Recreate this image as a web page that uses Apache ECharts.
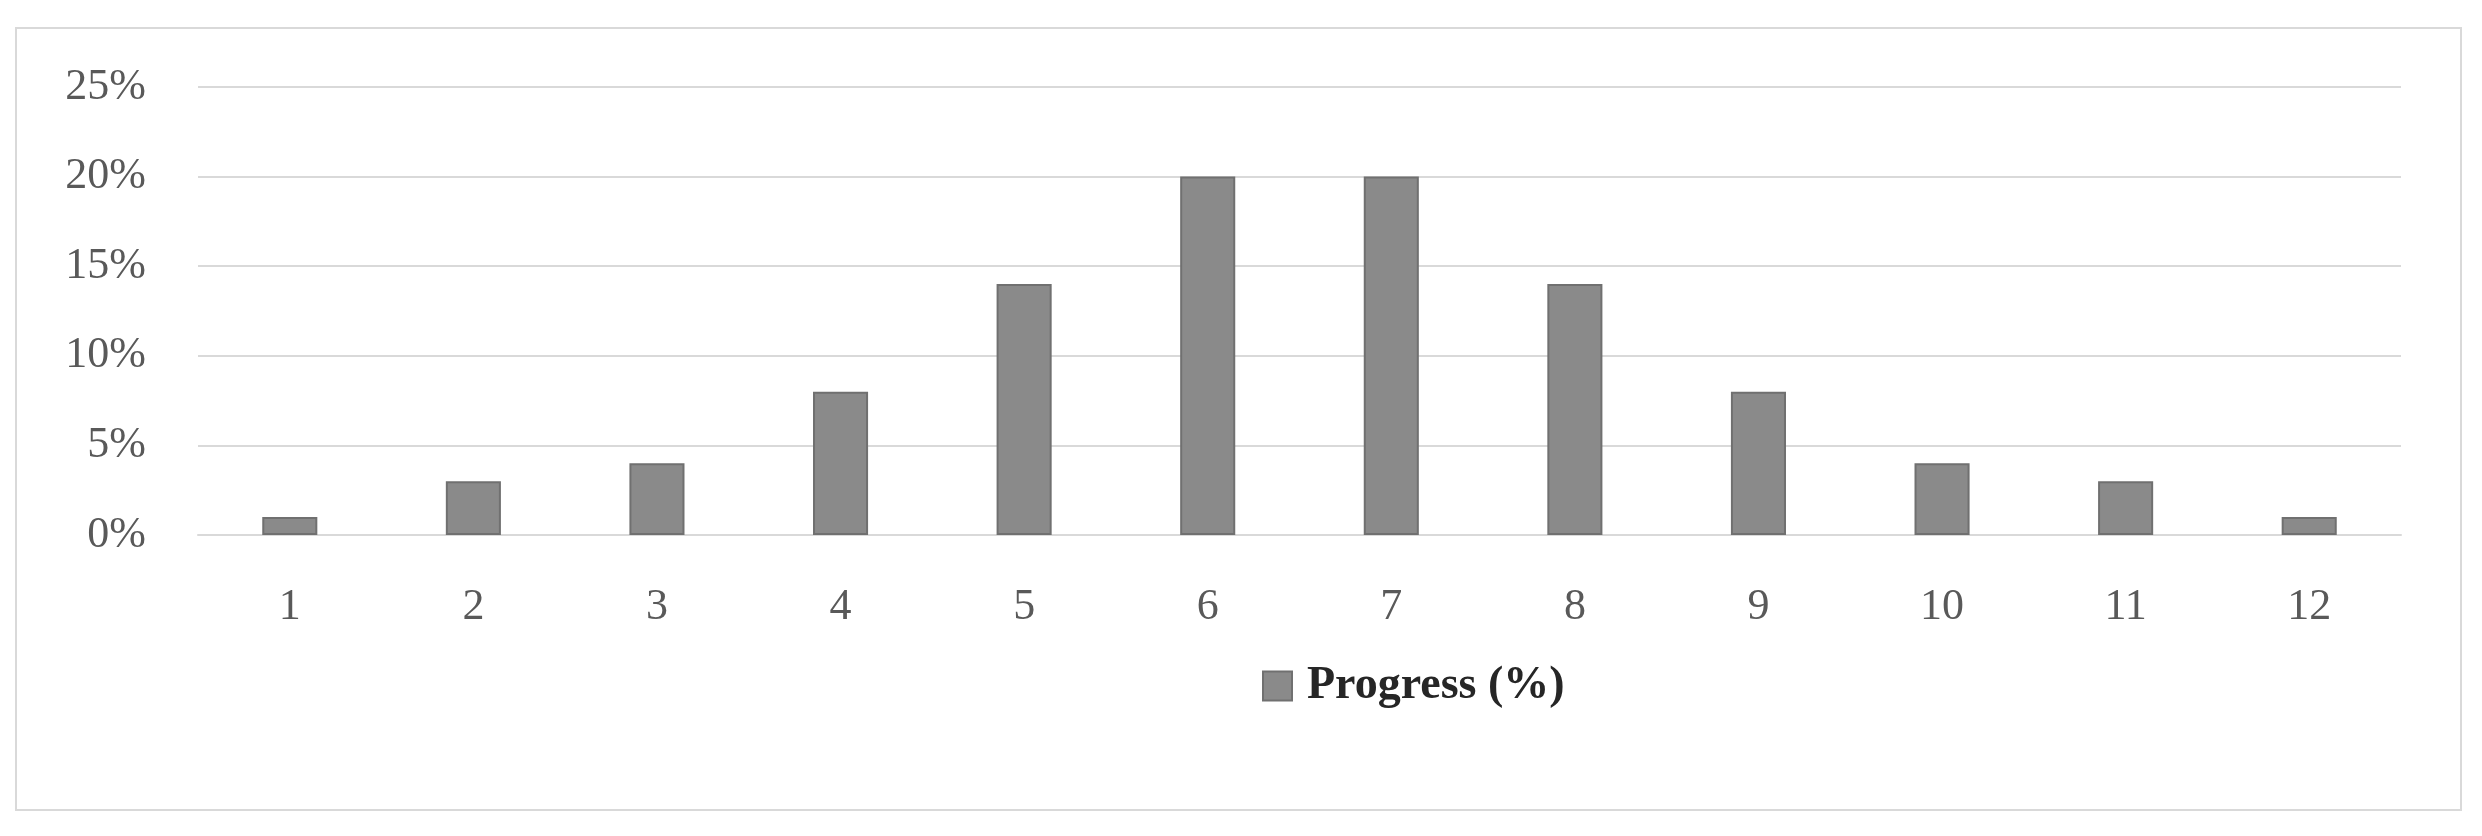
<!DOCTYPE html>
<html>
<head>
<meta charset="utf-8">
<script src="https://cdn.jsdelivr.net/npm/echarts@6/dist/echarts.min.js"></script>
<style>
  html, body { margin: 0; padding: 0; background: #fff; }
  #main { width: 2482px; height: 836px; }
</style>
</head>
<body>
<div id="main"></div>
<script>
// data
const months = ['1', '2', '3', '4', '5', '6', '7', '8', '9', '10', '11', '12'];
const progress = [1, 3, 4, 8, 14, 20, 20, 14, 8, 4, 3, 1];
const seriesName = 'Progress (%)';

const chart = echarts.init(document.getElementById('main'));
const font = '"Liberation Serif", "DejaVu Serif", serif';

chart.setOption({
  backgroundColor: '#fff',
  animation: false,
  graphic: [
    {
      type: 'rect',
      shape: { x: 16, y: 28, width: 2445, height: 782 },
      style: { fill: 'none', stroke: '#d9d9d9', lineWidth: 2 }
    }
  ],
  grid: {
    left: 198,
    right: 81,
    top: 87,
    bottom: 301
  },
  legend: {
    data: [{ name: seriesName, icon: 'rect' }],
    left: 1257,
    top: 658,
    itemWidth: 29,
    itemHeight: 29,
    itemGap: 10,
    textStyle: { fontFamily: font, fontSize: 46, color: '#262626', fontWeight: 'bold', padding: [0, 0, 0, 10] }
  },
  xAxis: {
    type: 'category',
    data: months,
    axisLine: { lineStyle: { color: '#d9d9d9', width: 2 } },
    axisTick: { show: false },
    axisLabel: { fontFamily: font, fontSize: 44, color: '#595959', margin: 50 }
  },
  yAxis: {
    type: 'value',
    min: 0,
    max: 25,
    interval: 5,
    axisLine: { show: false },
    axisTick: { show: false },
    splitLine: { lineStyle: { color: '#d9d9d9', width: 2 } },
    axisLabel: {
      fontFamily: font,
      fontSize: 44,
      color: '#595959',
      margin: 52,
      formatter: '{value}%'
    }
  },
  series: [
    {
      name: seriesName,
      type: 'bar',
      data: progress,
      barWidth: '30%',
      itemStyle: { color: '#8a8a8a', borderColor: '#707070', borderWidth: 2 }
    }
  ]
});
</script>
</body>
</html>
